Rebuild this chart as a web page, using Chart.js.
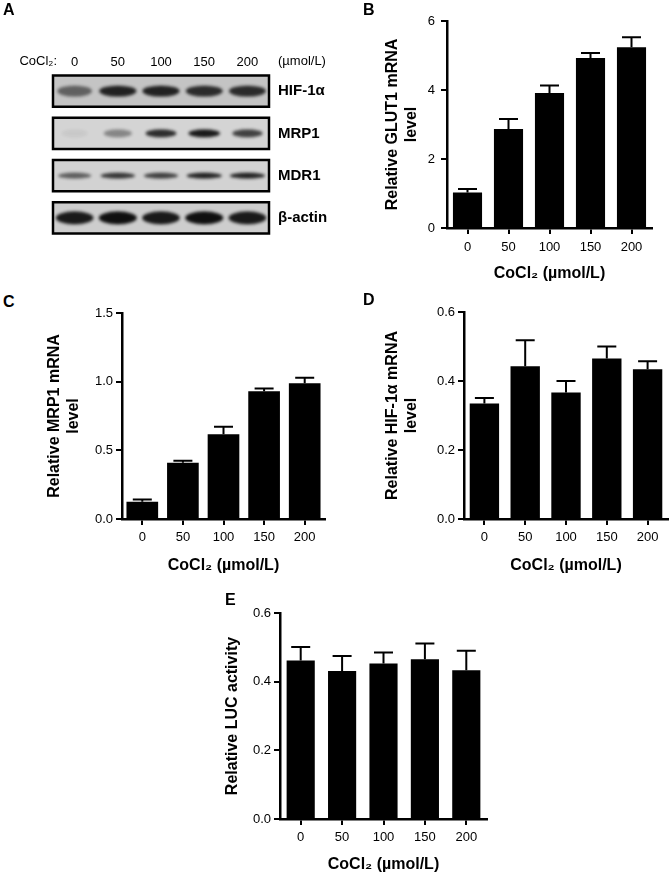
<!DOCTYPE html>
<html>
<head>
<meta charset="utf-8">
<script src="https://cdn.jsdelivr.net/npm/chart.js@4.4.1/dist/chart.umd.min.js"></script>
<style>
  body { margin: 0; background: #fff; }
  #fig { position: relative; width: 670px; height: 874px; }
  #fig canvas { position: absolute; }
  .tag { position: absolute; font: bold 16px "Liberation Sans", Arial, sans-serif; line-height: 1; color: #000; }
</style>
</head>
<body>
<div id="fig">
  <canvas id="blot" width="340" height="270" style="left:0;top:0"></canvas>
  <canvas id="glut1" width="305" height="290" style="left:365px;top:0"></canvas>
  <canvas id="mrp1" width="320" height="300" style="left:30px;top:290px"></canvas>
  <canvas id="hif1a" width="300" height="300" style="left:370px;top:290px"></canvas>
  <canvas id="luc" width="290" height="284" style="left:210px;top:590px"></canvas>
  <div class="tag" style="left:3px;top:2px">A</div>
  <div class="tag" style="left:363px;top:2px">B</div>
  <div class="tag" style="left:3px;top:294px">C</div>
  <div class="tag" style="left:363px;top:292px">D</div>
  <div class="tag" style="left:225px;top:592px">E</div>
</div>
<script>
// CoCl2 doses (µmol/L)
const doses = ["0", "50", "100", "150", "200"];

// B - GLUT1 mRNA
const glut1Mean = [1.03, 2.87, 3.91, 4.93, 5.24];
const glut1Err = [0.1, 0.29, 0.22, 0.14, 0.29];

// C - MRP1 mRNA
const mrp1Mean = [0.125, 0.41, 0.618, 0.931, 0.989];
const mrp1Err = [0.017, 0.014, 0.053, 0.02, 0.04];

// D - HIF-1α mRNA
const hifMean = [0.335, 0.443, 0.367, 0.465, 0.434];
const hifErr = [0.016, 0.075, 0.033, 0.035, 0.023];

// E - LUC activity
const lucMean = [0.462, 0.431, 0.453, 0.465, 0.433];
const lucErr = [0.039, 0.044, 0.032, 0.046, 0.057];

// A - western blot, band darkness per lane (0..1)
const proteins = ["HIF-1α", "MRP1", "MDR1", "β-actin"];
const hifBands = [0.55, 0.9, 0.9, 0.85, 0.85];
const mrp1Bands = [0.06, 0.4, 0.85, 0.95, 0.75];
const mdr1Bands = [0.6, 0.8, 0.75, 0.9, 0.9];
const actinBands = [0.95, 1, 0.95, 1, 0.95];

Chart.defaults.font.family = '"Liberation Sans", Arial, Helvetica, sans-serif';
Chart.defaults.color = "#000";

const xTitle = "CoCl₂ (µmol/L)";

// look of the blot rows
const bandLook = [
  { w: 38, h: 11 },
  { w: 32, h: 8 },
  { w: 36, h: 6 },
  { w: 38, h: 13 },
];
const boxFill = ["#c4c4c4", "#d4d4d4", "#d2d2d2", "#cdcdcd"];

const bandImage = (dark, look) => {
  const c = document.createElement("canvas");
  const w = look.w * (0.8 + 0.2 * dark);
  c.width = Math.ceil(w + 12);
  c.height = look.h + 12;
  const g = c.getContext("2d");
  g.filter = "blur(1.6px)";
  g.fillStyle = "rgba(15,15,15," + dark + ")";
  g.beginPath();
  g.ellipse(c.width / 2, c.height / 2, w / 2, look.h / 2, 0, 0, Math.PI * 2);
  g.fill();
  return c;
};

const blotBoxes = {
  id: "blotBoxes",
  beforeDatasetsDraw(chart) {
    const { ctx, chartArea: a, scales: { y } } = chart;
    const rowH = y.getPixelForValue(1) - y.getPixelForValue(0);
    ctx.save();
    proteins.forEach((p, r) => {
      const yc = y.getPixelForValue(r);
      const h = rowH * 0.74;
      ctx.fillStyle = boxFill[r];
      ctx.fillRect(a.left, yc - h / 2, a.right - a.left, h);
      ctx.lineWidth = 2.5;
      ctx.strokeStyle = "#000";
      ctx.strokeRect(a.left, yc - h / 2, a.right - a.left, h);
    });
    ctx.restore();
  },
  afterDraw(chart) {
    const { ctx, chartArea: a } = chart;
    const ty = a.top - 9;
    ctx.save();
    ctx.font = '13px "Liberation Sans", Arial, sans-serif';
    ctx.fillStyle = "#000";
    ctx.textBaseline = "middle";
    ctx.textAlign = "right";
    ctx.fillText("CoCl₂:", a.left + 4, ty);
    ctx.textAlign = "left";
    ctx.fillText("(µmol/L)", a.right + 9, ty);
    ctx.restore();
  },
};

const blotRows = [hifBands, mrp1Bands, mdr1Bands, actinBands];

new Chart(document.getElementById("blot"), {
  type: "scatter",
  data: {
    datasets: blotRows.map((bands, r) => ({
      data: bands.map((d, i) => ({ x: doses[i], y: proteins[r] })),
      pointStyle: bands.map((d) => bandImage(d, bandLook[r])),
      pointRadius: 10,
    })),
  },
  options: {
    responsive: false,
    animation: false,
    layout: { padding: { left: 53, top: 50, right: 0, bottom: 31 } },
    plugins: { legend: { display: false }, tooltip: { enabled: false } },
    scales: {
      x: {
        type: "category",
        labels: doses,
        offset: true,
        position: "top",
        grid: { display: false },
        border: { display: false },
        ticks: { font: { size: 13 }, padding: -8 },
        afterFit: (s) => { s.height = 20; },
      },
      y: {
        type: "category",
        labels: proteins,
        offset: true,
        position: "right",
        grid: { display: false },
        border: { display: false },
        ticks: { font: { size: 15, weight: "bold" }, padding: 1 },
        afterFit: (s) => { s.width = 71; },
      },
    },
  },
  plugins: [blotBoxes],
});

const errorBars = {
  id: "errorBars",
  afterDatasetsDraw(chart, args, opts) {
    const { ctx } = chart;
    const y = chart.scales.y;
    const vals = chart.data.datasets[0].data;
    ctx.save();
    ctx.strokeStyle = "#000";
    ctx.lineWidth = 2;
    chart.getDatasetMeta(0).data.forEach((bar, i) => {
      const top = y.getPixelForValue(vals[i] + opts.errors[i]);
      ctx.beginPath();
      ctx.moveTo(bar.x, bar.y);
      ctx.lineTo(bar.x, top);
      ctx.moveTo(bar.x - opts.cap / 2, top);
      ctx.lineTo(bar.x + opts.cap / 2, top);
      ctx.stroke();
    });
    ctx.restore();
  },
};

const axisGrid = {
  display: true,
  drawOnChartArea: false,
  offset: false,
  color: "#000",
  lineWidth: 2,
  tickWidth: 2,
  tickLength: 6,
};
const axisBorder = { display: true, color: "#000", width: 2.5 };

const barChart = (id, values, errors, o) => {
  return new Chart(document.getElementById(id), {
    type: "bar",
    data: {
      labels: doses,
      datasets: [
        {
          data: values,
          backgroundColor: "#000",
          barPercentage: o.barPct,
          categoryPercentage: 1,
        },
      ],
    },
    options: {
      responsive: false,
      animation: false,
      layout: { padding: o.pad },
      plugins: {
        legend: { display: false },
        tooltip: { enabled: false },
        errorBars: { errors: errors, cap: 19 },
      },
      scales: {
        x: {
          grid: axisGrid,
          border: axisBorder,
          ticks: { font: { size: 13 }, padding: o.xTickPad, maxRotation: 0 },
          title: {
            display: true,
            text: xTitle,
            font: { size: 16, weight: "bold" },
            padding: { top: 0, bottom: o.xTitlePad },
          },
          afterFit: (s) => { s.height = o.xHeight; },
        },
        y: {
          min: 0,
          max: o.yMax,
          grid: axisGrid,
          border: axisBorder,
          ticks: {
            stepSize: o.step,
            font: { size: 13 },
            padding: o.yTickPad,
            callback: (v) => v.toFixed(o.dec),
          },
          title: {
            display: true,
            text: o.yTitle,
            font: { size: 16, weight: "bold" },
            padding: { top: o.yTitlePad, bottom: 0 },
          },
          afterFit: (s) => { s.width = o.yWidth; },
        },
      },
    },
    plugins: [errorBars],
  });
};

barChart("glut1", glut1Mean, glut1Err, {
  yMax: 6, step: 2, dec: 0,
  yTitle: ["Relative GLUT1 mRNA", "level"],
  pad: { left: 0, right: 18, top: 21, bottom: 0 },
  yWidth: 82, yTitlePad: 18, yTickPad: 6,
  xHeight: 62, xTitlePad: 7, xTickPad: 6,
  barPct: 0.71,
});

barChart("mrp1", mrp1Mean, mrp1Err, {
  yMax: 1.5, step: 0.5, dec: 1,
  yTitle: ["Relative MRP1 mRNA", "level"],
  pad: { left: 0, right: 25, top: 23, bottom: 0 },
  yWidth: 92, yTitlePad: 15, yTickPad: 3,
  xHeight: 71, xTitlePad: 15, xTickPad: 5,
  barPct: 0.78,
});

barChart("hif1a", hifMean, hifErr, {
  yMax: 0.6, step: 0.2, dec: 1,
  yTitle: ["Relative HIF-1α mRNA", "level"],
  pad: { left: 0, right: 2, top: 22, bottom: 0 },
  yWidth: 94, yTitlePad: 13, yTickPad: 3,
  xHeight: 71, xTitlePad: 15, xTickPad: 5,
  barPct: 0.72,
});

barChart("luc", lucMean, lucErr, {
  yMax: 0.6, step: 0.2, dec: 1,
  yTitle: "Relative LUC activity",
  pad: { left: 0, right: 13, top: 23, bottom: 0 },
  yWidth: 70, yTitlePad: 13, yTickPad: 3,
  xHeight: 55, xTitlePad: 0, xTickPad: 5,
  barPct: 0.68,
});
</script>
</body>
</html>
